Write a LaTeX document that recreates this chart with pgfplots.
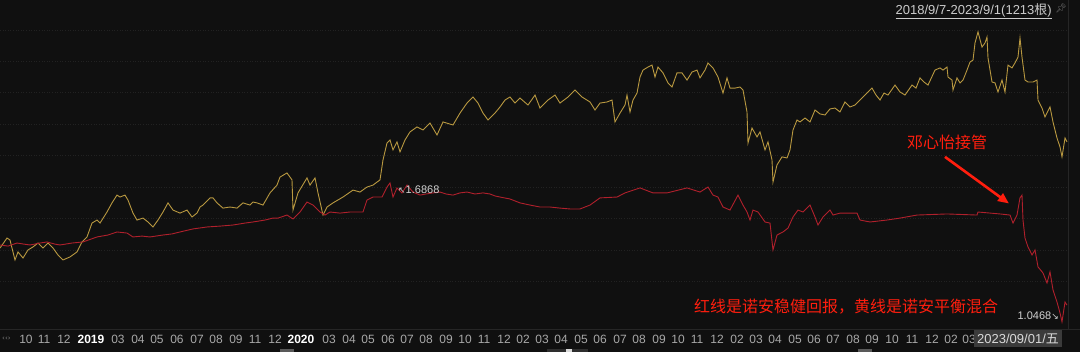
\documentclass[border=0pt]{standalone}
\usepackage{fontspec}
\setmainfont{Liberation Sans}
\newfontfamily\cjk{Noto Sans CJK SC}
\newfontfamily\dv{DejaVu Sans}
\newfontfamily\emoji{Noto Emoji}
\usepackage{pgfplots}
\pgfplotsset{compat=1.18}
\usetikzlibrary{arrows.meta}
\definecolor{bg}{HTML}{101010}
\definecolor{gold}{HTML}{B89840}
\definecolor{dred}{HTML}{B0202C}
\definecolor{ared}{HTML}{FF1E0E}
\definecolor{lbl}{HTML}{A8A8A8}
\definecolor{gridc}{HTML}{222222}
\definecolor{sepc}{HTML}{262626}
\begin{document}
\begin{tikzpicture}
\fill[bg] (0,0) rectangle (1080pt,352pt);
\path[use as bounding box] (0,0) rectangle (1080pt,352pt);
\foreach \gy in {322,291,260,228,197,165,134,102,71} {
  \draw[gridc, dotted, line width=0.6pt] (0,\gy pt) -- (1068pt,\gy pt);
}
\begin{axis}[at={(0pt,23pt)}, anchor=south west, scale only axis,
  width=1080pt, height=329pt, xmin=0, xmax=1080, ymin=1.0139, ymax=2.530,
  axis line style={draw=none}, major tick length=0pt,
  ytick=\empty,
  xtick pos=bottom,
  xtick={26,44,64,91,118,138,157,177,197,216,236,255,275,301,329,349,368,388,407,426,446,465,484,504,523,542,561,581,600,620,639,659,678,697,717,737,756,775,795,814,833,853,872,892,912,932,951,969},
  xticklabels={10,11,12,{\textcolor{white}{\textbf{2019}}},03,04,05,06,07,08,09,11,12,{\textcolor{white}{\textbf{2020}}},03,04,05,06,07,08,09,10,11,12,02,03,04,05,06,07,08,09,10,11,12,02,03,04,05,06,07,08,09,10,11,12,02,03},
  xticklabel style={anchor=center, yshift=-10pt, text=lbl, font=\fontsize{12}{12}\selectfont},
  clip=false]
\addplot[gold, line width=0.9pt] coordinates {
(0,1.387) (7,1.433) (10,1.424) (15,1.332) (18,1.369) (23,1.341) (28,1.378) (33,1.392) (38,1.410) (43,1.387) (48,1.410) (53,1.387) (58,1.355) (63,1.332) (70,1.346) (77,1.369) (82,1.415) (87,1.438) (92,1.502) (97,1.516) (100,1.502) (107,1.553) (112,1.595) (117,1.631) (120,1.622) (125,1.631) (128,1.608) (133,1.548) (137,1.516) (143,1.525) (148,1.507) (153,1.484) (158,1.516) (163,1.553) (168,1.595) (173,1.562) (180,1.548) (187,1.562) (192,1.530) (197,1.548) (200,1.576) (203,1.585) (210,1.618) (213,1.618) (217,1.595) (223,1.571) (230,1.576) (237,1.571) (243,1.595) (250,1.585) (253,1.599) (257,1.595) (263,1.585) (270,1.641) (277,1.677) (280,1.714) (287,1.733) (292,1.701) (293,1.562) (298,1.641) (307,1.710) (310,1.677) (315,1.710) (318,1.641) (323,1.539) (327,1.576) (333,1.595) (343,1.622) (353,1.654) (360,1.645) (367,1.668) (373,1.677) (380,1.701) (383,1.793) (387,1.871) (390,1.885) (393,1.839) (397,1.876) (400,1.830) (405,1.885) (410,1.922) (417,1.945) (423,1.931) (430,1.963) (437,1.908) (443,1.968) (453,1.954) (460,2.009) (467,2.055) (473,2.083) (478,2.055) (483,2.009) (488,1.977) (495,2.009) (500,2.037) (505,2.069) (510,2.083) (515,2.055) (520,2.078) (528,2.046) (535,2.092) (540,2.032) (548,2.069) (555,2.092) (560,2.055) (568,2.083) (575,2.115) (582,2.083) (590,2.060) (595,2.023) (600,2.055) (607,2.060) (612,2.069) (615,1.968) (620,2.009) (625,2.046) (627,2.092) (630,2.014) (633,2.069) (637,2.101) (640,2.175) (643,2.207) (648,2.221) (652,2.230) (655,2.175) (658,2.221) (663,2.194) (668,2.148) (672,2.129) (677,2.194) (682,2.194) (687,2.161) (692,2.198) (697,2.207) (700,2.171) (705,2.207) (708,2.240) (713,2.217) (718,2.175) (723,2.101) (727,2.171) (730,2.124) (735,2.124) (740,2.129) (743,2.115) (747,2.014) (748,1.871) (752,1.940) (757,1.899) (760,1.922) (765,1.839) (768,1.876) (772,1.793) (773,1.691) (777,1.770) (782,1.807) (787,1.802) (790,1.839) (793,1.931) (797,1.977) (800,1.968) (805,1.986) (810,1.968) (815,2.023) (820,2.005) (825,2.000) (830,2.028) (835,2.032) (840,2.014) (845,2.060) (850,2.037) (855,2.046) (860,2.069) (865,2.092) (872,2.124) (876,2.092) (880,2.069) (884,2.101) (888,2.092) (895,2.138) (900,2.106) (905,2.092) (912,2.138) (916,2.124) (920,2.171) (924,2.152) (928,2.138) (935,2.207) (940,2.217) (943,2.207) (947,2.221) (948,2.175) (952,2.161) (953,2.115) (957,2.171) (960,2.148) (963,2.161) (967,2.207) (970,2.244) (973,2.253) (975,2.332) (978,2.383) (982,2.313) (985,2.332) (987,2.359) (988,2.263) (992,2.152) (995,2.148) (998,2.106) (1002,2.161) (1005,2.106) (1008,2.230) (1012,2.217) (1015,2.240) (1018,2.267) (1020,2.355) (1022,2.267) (1025,2.161) (1028,2.152) (1033,2.152) (1037,2.161) (1038,2.069) (1042,2.032) (1045,1.991) (1050,2.037) (1053,1.968) (1057,1.894) (1060,1.853) (1062,1.807) (1065,1.894) (1067,1.876)
};
\addplot[dred, line width=0.9pt] coordinates {
(0,1.401) (8,1.396) (17,1.410) (24,1.405) (30,1.401) (40,1.410) (47,1.415) (55,1.405) (60,1.401) (72,1.410) (83,1.415) (97,1.438) (108,1.447) (117,1.461) (127,1.456) (133,1.438) (142,1.442) (150,1.438) (163,1.447) (172,1.452) (180,1.461) (193,1.475) (207,1.484) (220,1.488) (233,1.493) (245,1.502) (253,1.507) (265,1.516) (273,1.525) (278,1.525) (287,1.539) (293,1.521) (300,1.553) (307,1.599) (313,1.585) (320,1.553) (325,1.539) (330,1.553) (340,1.548) (350,1.553) (363,1.553) (367,1.608) (373,1.622) (382,1.622) (387,1.668) (390,1.687) (393,1.622) (397,1.664) (402,1.641) (407,1.677) (413,1.645) (420,1.631) (426,1.636) (433,1.641) (440,1.645) (446,1.636) (453,1.631) (460,1.641) (467,1.645) (475,1.636) (483,1.641) (490,1.636) (495,1.627) (500,1.622) (510,1.613) (520,1.595) (530,1.585) (540,1.576) (550,1.576) (560,1.571) (570,1.567) (580,1.567) (585,1.576) (590,1.585) (600,1.618) (617,1.622) (625,1.641) (640,1.664) (653,1.641) (667,1.641) (687,1.664) (700,1.645) (708,1.668) (713,1.631) (718,1.622) (723,1.576) (730,1.562) (738,1.631) (743,1.585) (747,1.553) (750,1.516) (753,1.562) (758,1.553) (765,1.507) (770,1.502) (773,1.378) (777,1.447) (783,1.461) (788,1.479) (793,1.530) (798,1.562) (803,1.553) (810,1.585) (815,1.530) (818,1.493) (823,1.530) (830,1.562) (833,1.539) (840,1.548) (857,1.548) (860,1.516) (870,1.507) (887,1.516) (900,1.525) (917,1.539) (947,1.544) (977,1.539) (978,1.553) (1000,1.544) (1010,1.539) (1013,1.502) (1017,1.539) (1020,1.618) (1022,1.631) (1023,1.516) (1025,1.433) (1028,1.392) (1032,1.355) (1035,1.378) (1038,1.300) (1043,1.272) (1047,1.226) (1050,1.277) (1053,1.194) (1057,1.138) (1060,1.088) (1062,1.047) (1065,1.138) (1067,1.124)
};
\node[anchor=west, text=white!82!black, font=\fontsize{11}{11}\selectfont, inner sep=0pt] at (axis cs:398,1.654) {{\dv\fontsize{9}{9}\selectfont ↖}1.6868};
\node[anchor=east, text=white!82!black, font=\fontsize{11}{11}\selectfont, inner sep=0pt] at (axis cs:1059,1.074) {1.0468{\dv\fontsize{9}{9}\selectfont ↘}};
\node[text=ared, font=\cjk\fontsize{16}{16}\selectfont, inner sep=0pt] at (axis cs:947,1.876) {邓心怡接管};
\draw[ared, line width=2.6pt, -{Triangle[length=11pt,width=9pt]}] (axis cs:945,1.807) -- (axis cs:1009,1.592);
\node[text=ared, font=\cjk\fontsize{16}{16}\selectfont, inner sep=0pt] at (axis cs:846,1.115) {红线是诺安稳健回报，黄线是诺安平衡混合};
\end{axis}
\draw[sepc, line width=0.6pt] (0,23pt) -- (1080pt,23pt);
\draw[sepc, line width=0.6pt] (1068pt,23pt) -- (1068pt,352pt);
\node[anchor=east, text=white!80!black, font=\fontsize{13}{13}\selectfont, inner sep=0pt] at (1052pt,341pt) {\underline{2018/9/7-2023/9/1(1213{\cjk 根})}};
\node[text=white!45!black, font=\emoji\fontsize{9}{9}\selectfont, inner sep=0pt] at (1061pt,344pt) {📌};
\node[anchor=west, fill=white!23!black, text=white!85!black, font=\fontsize{13}{13}\selectfont, inner xsep=3pt, minimum height=17pt] at (974pt,13pt) {2023/09/01/{\cjk 五}};
\node[anchor=west, text=white!50!black, font=\dv\fontsize{7}{7}\selectfont, inner sep=0pt] at (2pt,13pt) {‹‹›};
\fill[white!35!black] (280pt,0pt) rectangle (294pt,2.5pt);
\fill[white!18!black] (547pt,0pt) rectangle (588pt,2.5pt);
\fill[white!85!black] (566pt,0pt) rectangle (572pt,3pt);
\fill[white!35!black] (858pt,0pt) rectangle (872pt,2.5pt);
\end{tikzpicture}
\end{document}
